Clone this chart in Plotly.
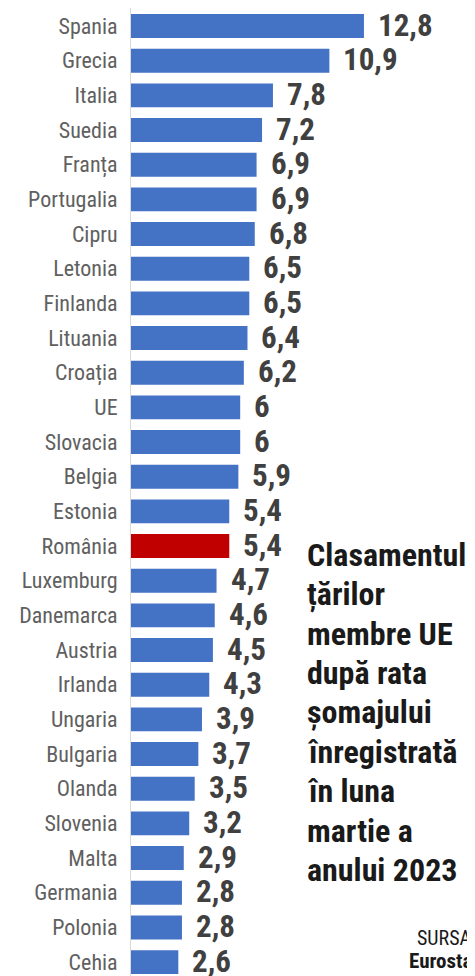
import plotly.graph_objects as go

countries = ["Spania", "Grecia", "Italia", "Suedia", "Franța", "Portugalia", "Cipru",
             "Letonia", "Finlanda", "Lituania", "Croația", "UE", "Slovacia", "Belgia",
             "Estonia", "România", "Luxemburg", "Danemarca", "Austria", "Irlanda",
             "Ungaria", "Bulgaria", "Olanda", "Slovenia", "Malta", "Germania",
             "Polonia", "Cehia"]
values = [12.8, 10.9, 7.8, 7.2, 6.9, 6.9, 6.8, 6.5, 6.5, 6.4, 6.2, 6, 6, 5.9, 5.4,
          5.4, 4.7, 4.6, 4.5, 4.3, 3.9, 3.7, 3.5, 3.2, 2.9, 2.8, 2.8, 2.6]
value_labels = [str(v).replace(".", ",") for v in values]
highlight = "România"

title_lines = ["Clasamentul", "țărilor", "membre UE", "după rata", "șomajului",
               "înregistrată", "în luna", "martie a", "anului 2023"]
source_label = "SURSA"
source_name = "Eurostat"

BLUE = "#4472C4"
RED = "#C00000"
NARROW = "Liberation Sans Narrow, Roboto Condensed, DejaVu Sans Condensed, Arial Narrow, sans-serif"

# page body has an 8px margin; figure is sized/positioned to compensate
W, H = 467, 968
L = 123
plot_w = W - L
plot_h = H
step = 34.67
first_center = 18


def px_x(p):
    return (p - L) / plot_w


def px_y(p):
    return 1 - p / plot_h


colors = [RED if c == highlight else BLUE for c in countries]
idx = list(range(len(countries)))

fig = go.Figure()
fig.add_trace(go.Bar(
    x=values, y=idx, orientation="h",
    marker=dict(color=colors, line=dict(width=0)),
    hoverinfo="skip",
))

for i, (v, t) in enumerate(zip(values, value_labels)):
    fig.add_annotation(x=v, y=i, text=t, xref="x", yref="y",
                       xanchor="left", yanchor="middle", xshift=12, yshift=1,
                       showarrow=False,
                       font=dict(family=NARROW, size=31, color="#404040", weight="bold"))

for k, line in enumerate(title_lines):
    fig.add_annotation(x=px_x(297), y=px_y(547 + k * 39.4), xref="paper", yref="paper",
                       text=line, showarrow=False, xanchor="left", yanchor="middle",
                       align="left",
                       font=dict(family=NARROW, size=32, color="#1a1a1a", weight="bold"))

fig.add_annotation(x=px_x(466), y=px_y(930), xref="paper", yref="paper",
                   text=source_label, showarrow=False, xanchor="right", yanchor="middle",
                   font=dict(family=NARROW, size=20, color="#1a1a1a"))
fig.add_annotation(x=px_x(473), y=px_y(953), xref="paper", yref="paper",
                   text=source_name, showarrow=False, xanchor="right", yanchor="middle",
                   font=dict(family=NARROW, size=21, color="#1a1a1a", weight="bold"))

top = -first_center / step
bottom = top + plot_h / step

fig.update_layout(
    width=W, height=H,
    margin=dict(l=L, r=0, t=0, b=0, autoexpand=False),
    paper_bgcolor="white", plot_bgcolor="white",
    bargap=0.31,
    showlegend=False,
    xaxis=dict(range=[0, plot_w / 18.2], visible=False, fixedrange=True),
    yaxis=dict(range=[bottom, top], tickmode="array", tickvals=idx, ticktext=countries,
               showgrid=False, zeroline=False, showline=True, linecolor="#d9d9d9", linewidth=1,
               ticks="", ticklabelstandoff=8, fixedrange=True, ticklabeloverflow="allow",
               tickfont=dict(family=NARROW, size=22, color="#606060")),
)

fig.write_html("out.html")
